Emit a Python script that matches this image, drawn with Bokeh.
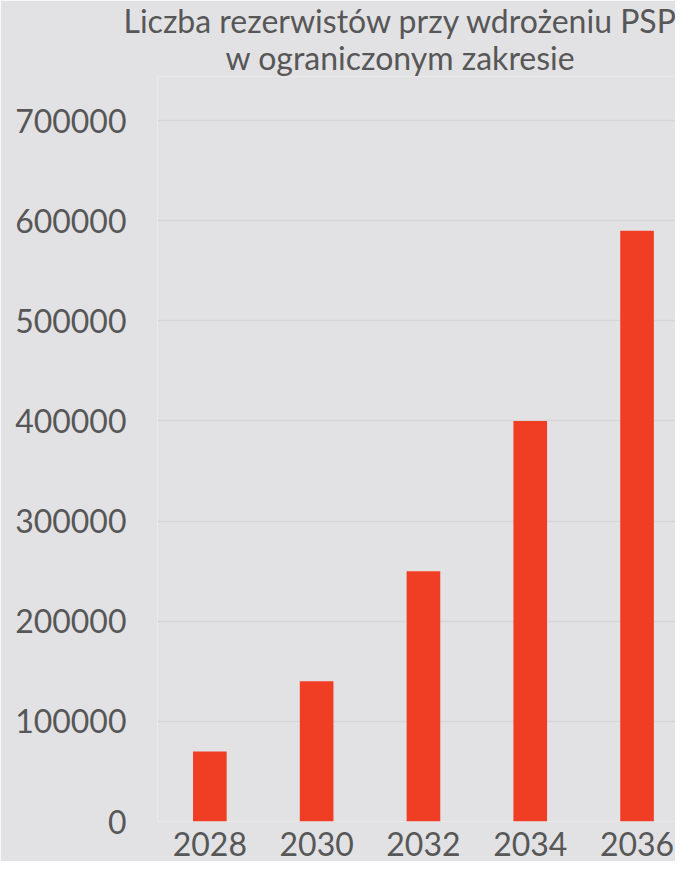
from bokeh.plotting import figure
from bokeh.models import Range1d, FixedTicker, Title, ColumnDataSource
from bokeh.embed import file_html
from bokeh.resources import INLINE

years = ["2028", "2030", "2032", "2034", "2036"]
reservists = [70000, 140000, 250000, 400000, 590000]
y_ticks = [0, 100000, 200000, 300000, 400000, 500000, 600000, 700000]

BG = "#e2e2e4"
TXT = "#575757"
BAR = "#f03e24"
FONT = "Lato"

idx = list(range(len(years)))
src = ColumnDataSource(dict(x=idx, y=reservists))

p = figure(width=675, height=861, output_backend="svg", toolbar_location=None,
           x_range=Range1d(-0.49, 4.36), y_range=Range1d(0, 744000),
           min_border_left=157, min_border_right=0, min_border_top=76,
           min_border_bottom=40)
p.background_fill_color = BG
p.border_fill_color = BG
p.outline_line_color = None

p.vbar(x="x", top="y", width=0.315, bottom=0, source=src, fill_color=BAR, line_color=None)

p.xaxis.ticker = FixedTicker(ticks=idx)
p.xaxis.major_label_overrides = {i: y for i, y in zip(idx, years)}
p.yaxis.ticker = FixedTicker(ticks=y_ticks)
p.yaxis.major_label_overrides = {t: str(t) for t in y_ticks}

for ax in (p.xaxis[0], p.yaxis[0]):
    ax.axis_line_color = None
    ax.major_tick_line_color = None
    ax.minor_tick_line_color = None
    ax.major_tick_out = 0
    ax.major_tick_in = 0
    ax.major_label_text_font = FONT
    ax.major_label_text_font_size = "32px"
    ax.major_label_text_color = TXT
p.yaxis.major_label_standoff = 31
p.xaxis.major_label_standoff = 10

p.xgrid.grid_line_color = None
p.ygrid.grid_line_color = "#d6d6d8"
p.ygrid.grid_line_width = 1.5

t2 = Title(text="w ograniczonym zakresie", align="left", offset=68,
           text_font=FONT, text_font_size="32px", text_font_style="normal",
           text_color=TXT, standoff=0)
t1 = Title(text="Liczba rezerwistów przy wdrożeniu PSP", align="left", offset=-34,
           text_font=FONT, text_font_size="32px", text_font_style="normal",
           text_color=TXT, standoff=-8)
p.add_layout(t2, "above")
p.add_layout(t1, "above")

open("out.html", "w").write(file_html(p, INLINE))
